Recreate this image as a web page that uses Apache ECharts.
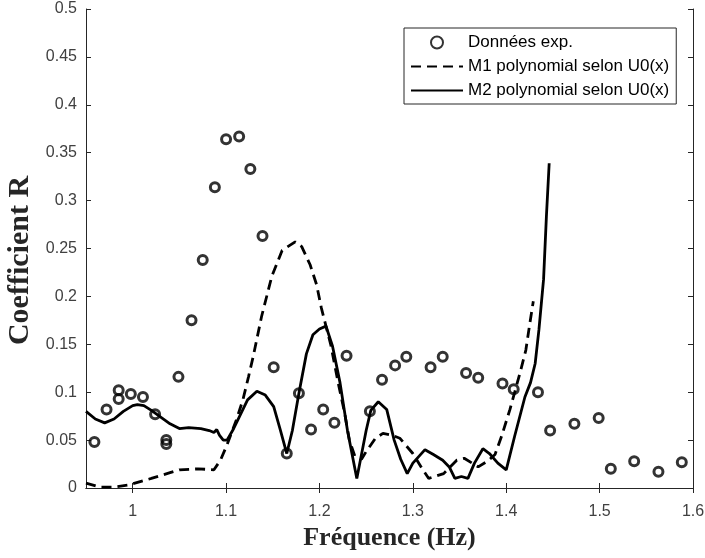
<!DOCTYPE html>
<html>
<head>
<meta charset="utf-8">
<script src="https://cdn.jsdelivr.net/npm/echarts@6/dist/echarts.min.js"></script>
<style>
  html, body { margin: 0; padding: 0; background: #fff; }
  #chart { width: 705px; height: 558px; }
</style>
</head>
<body>
<div id="chart"></div>
<script>
  // experimental points
  var expFreq = [0.959, 0.972, 0.985, 0.985, 0.998, 1.011, 1.024, 1.036, 1.036, 1.049,
    1.063, 1.075, 1.088, 1.100, 1.114, 1.126, 1.139, 1.151, 1.165, 1.178,
    1.191, 1.204, 1.216, 1.229, 1.254, 1.267, 1.281, 1.293, 1.319, 1.332,
    1.357, 1.370, 1.396, 1.408, 1.434, 1.447, 1.473, 1.499, 1.512, 1.537,
    1.563, 1.588];
  var expR = [0.048, 0.082, 0.102, 0.093, 0.098, 0.095, 0.077, 0.050, 0.046, 0.116,
    0.175, 0.238, 0.314, 0.364, 0.367, 0.333, 0.263, 0.126, 0.036, 0.099,
    0.061, 0.082, 0.068, 0.138, 0.080, 0.113, 0.128, 0.137, 0.126, 0.137,
    0.120, 0.115, 0.109, 0.103, 0.100, 0.060, 0.067, 0.073, 0.020, 0.028,
    0.017, 0.027];

  // M1 polynomial (dashed)
  var m1Freq = [0.950, 0.965, 0.980, 0.995, 1.020, 1.040, 1.050, 1.070, 1.087, 1.094,
    1.101, 1.111, 1.118, 1.124, 1.129, 1.138, 1.149, 1.160, 1.174, 1.181,
    1.190, 1.197, 1.202, 1.212, 1.220, 1.227, 1.232, 1.238, 1.245, 1.250,
    1.260, 1.268, 1.278, 1.286, 1.300, 1.310, 1.317, 1.333, 1.347, 1.355,
    1.370, 1.380, 1.388, 1.395, 1.404, 1.415, 1.421, 1.425, 1.429];
  var m1R = [0.005, 0.001, 0.001, 0.003, 0.010, 0.016, 0.019, 0.020, 0.019, 0.029,
    0.045, 0.071, 0.092, 0.116, 0.137, 0.179, 0.221, 0.248, 0.257, 0.252,
    0.233, 0.212, 0.188, 0.150, 0.110, 0.078, 0.050, 0.033, 0.030, 0.038,
    0.052, 0.057, 0.055, 0.052, 0.036, 0.020, 0.010, 0.015, 0.029, 0.031,
    0.022, 0.028, 0.035, 0.054, 0.082, 0.121, 0.144, 0.170, 0.195];

  // M2 polynomial (solid)
  var m2Freq = [0.950, 0.960, 0.970, 0.980, 0.990, 1.000, 1.005, 1.012, 1.020, 1.030,
    1.040, 1.050, 1.060, 1.073, 1.082, 1.087, 1.090, 1.093, 1.097, 1.101,
    1.107, 1.116, 1.123, 1.133, 1.142, 1.151, 1.158, 1.165, 1.171, 1.178,
    1.186, 1.193, 1.200, 1.207, 1.214, 1.222, 1.230, 1.234, 1.240, 1.246,
    1.250, 1.255, 1.263, 1.272, 1.280, 1.287, 1.294, 1.300, 1.313, 1.322,
    1.332, 1.339, 1.345, 1.352, 1.359, 1.366, 1.375, 1.382, 1.391, 1.400,
    1.409, 1.420, 1.426, 1.431, 1.435, 1.440, 1.443, 1.446];
  var m2R = [0.080, 0.072, 0.068, 0.072, 0.080, 0.086, 0.087, 0.086, 0.081, 0.074,
    0.067, 0.062, 0.063, 0.062, 0.060, 0.058, 0.061, 0.055, 0.050, 0.050,
    0.060, 0.078, 0.092, 0.101, 0.097, 0.085, 0.061, 0.036, 0.060, 0.099,
    0.140, 0.160, 0.166, 0.169, 0.148, 0.110, 0.060, 0.040, 0.010, 0.040,
    0.060, 0.081, 0.090, 0.082, 0.050, 0.030, 0.015, 0.026, 0.040, 0.035,
    0.029, 0.022, 0.010, 0.012, 0.010, 0.026, 0.041, 0.036, 0.026, 0.019,
    0.054, 0.095, 0.110, 0.130, 0.165, 0.218, 0.283, 0.339];

  var xTicks = [1, 1.1, 1.2, 1.3, 1.4, 1.5, 1.6];
  var seriesNames = ['Données exp.', 'M1 polynomial selon U0(x)', 'M2 polynomial selon U0(x)'];

  function pairs(xs, ys) {
    return xs.map(function (x, i) { return [x, ys[i]]; });
  }

  var chartDom = document.getElementById('chart');
  var myChart = echarts.init(chartDom, null, { renderer: 'canvas' });

  var axisColor = '#262626';
  var labelColor = '#404040';

  var option = {
    animation: false,
    backgroundColor: '#fff',
    grid: { left: 86, right: 12, top: 9, bottom: 70, outerBoundsMode: 'none' },
    legend: {
      orient: 'vertical',
      left: 404,
      top: 28,
      padding: [5, 7, 4, 6],
      itemWidth: 52,
      itemHeight: 12,
      itemGap: 5,
      borderColor: '#262626',
      borderWidth: 1,
      backgroundColor: '#fff',
      textStyle: { fontFamily: 'Liberation Sans', fontSize: 17, color: '#000', lineHeight: 19 },
      data: [
        { name: seriesNames[0] },
        { name: seriesNames[1], itemStyle: { opacity: 0 } },
        { name: seriesNames[2], itemStyle: { opacity: 0 } }
      ]
    },
    xAxis: [{
      type: 'value',
      min: 0.95,
      max: 1.6,
      name: 'Fréquence (Hz)',
      nameLocation: 'middle',
      nameGap: 37,
      nameTextStyle: { fontFamily: 'Liberation Serif', fontWeight: 'bold', fontSize: 26, color: '#262626' },
      axisLine: { lineStyle: { color: axisColor, width: 1 } },
      axisTick: { inside: true, length: 5, customValues: xTicks, lineStyle: { color: axisColor } },
      axisLabel: { customValues: xTicks, margin: 16, fontFamily: 'Liberation Sans', fontSize: 16, color: labelColor },
      splitLine: { show: false }
    }, {
      type: 'value',
      position: 'top',
      min: 0.95,
      max: 1.6,
      axisLine: { lineStyle: { color: axisColor, width: 1 } },
      axisTick: { inside: true, length: 5, customValues: xTicks, lineStyle: { color: axisColor } },
      axisLabel: { show: false },
      splitLine: { show: false }
    }],
    yAxis: [{
      type: 'value',
      min: 0,
      max: 0.5,
      interval: 0.05,
      name: 'Coefficient R',
      nameLocation: 'middle',
      nameGap: 49,
      nameTextStyle: {
        fontFamily: 'Liberation Serif', fontWeight: 'bold', fontSize: 30, color: '#262626',
        padding: [0, 24, 0, 0]
      },
      axisLine: { show: true, lineStyle: { color: axisColor, width: 1 } },
      axisTick: { show: true, inside: true, length: 5, lineStyle: { color: axisColor } },
      axisLabel: { margin: 9, fontFamily: 'Liberation Sans', fontSize: 16, color: labelColor },
      splitLine: { show: false }
    }, {
      type: 'value',
      position: 'right',
      min: 0,
      max: 0.5,
      interval: 0.05,
      axisLine: { show: true, lineStyle: { color: axisColor, width: 1 } },
      axisTick: { show: true, inside: true, length: 5, lineStyle: { color: axisColor } },
      axisLabel: { show: false },
      splitLine: { show: false }
    }],
    series: [{
      name: seriesNames[0],
      type: 'scatter',
      symbol: 'circle',
      symbolSize: 9,
      z: 3,
      itemStyle: { color: 'rgba(255,255,255,0)', borderColor: '#000', borderWidth: 3 },
      data: pairs(expFreq, expR)
    }, {
      name: seriesNames[1],
      type: 'line',
      symbol: 'none',
      z: 2,
      lineStyle: { color: '#000', width: 2.8, type: [10, 6] },
      itemStyle: { color: '#000' },
      data: pairs(m1Freq, m1R)
    }, {
      name: seriesNames[2],
      type: 'line',
      symbol: 'none',
      z: 2,
      lineStyle: { color: '#000', width: 2.8, type: 'solid' },
      itemStyle: { color: '#000' },
      data: pairs(m2Freq, m2R)
    }]
  };

  if (option && typeof option === 'object') {
    myChart.setOption(option);
  }

  window.addEventListener('resize', myChart.resize);
</script>
</body>
</html>
